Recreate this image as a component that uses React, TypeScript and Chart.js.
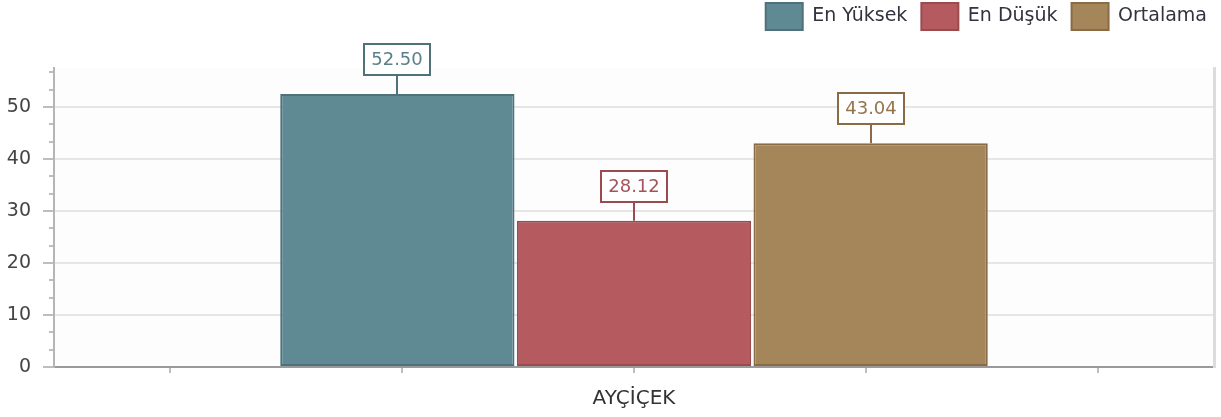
import React, { useEffect, useRef } from "react";
import { Chart, registerables } from "chart.js";

Chart.register(...registerables);

const categories = ["AYÇİÇEK"];
const seriesNames = ["En Yüksek", "En Düşük", "Ortalama"];
const enYuksek = [52.5];
const enDusuk = [28.12];
const ortalama = [43.04];
const yTickValues = [0, 10, 20, 30, 40, 50];
const yMax = 57.5;

const fillColors = ["#5f8a93", "#b55a5f", "#a5865b"];
const borderColors = ["#4f717a", "#9b4a50", "#8a6b45"];
const labelTextColors = ["#5a7f88", "#a5545a", "#94744d"];

const FONT = '"DejaVu Sans", Verdana, sans-serif';

const decorPlugin = {
  id: "decor",
  beforeLayout(chart: any) {
    const lg = chart.legend;
    if (lg && !lg._patched) {
      const orig = lg.fit.bind(lg);
      lg.fit = function () {
        orig();
        this.height = 79;
      };
      lg._patched = true;
    }
  },
  beforeDraw(chart: any) {
    const { ctx, chartArea } = chart;
    ctx.save();
    ctx.fillStyle = "#ffffff";
    ctx.fillRect(0, 0, chart.width, chart.height);
    ctx.fillStyle = "#fdfdfd";
    ctx.fillRect(chartArea.left, chartArea.top, chartArea.right - chartArea.left, chartArea.bottom - chartArea.top);
    ctx.restore();
  },
  afterDraw(chart: any) {
    const { ctx, chartArea } = chart;
    const y = chart.scales.y;
    ctx.save();
    ctx.strokeStyle = "#bdbdbd";
    ctx.lineWidth = 2;
    for (let k = 0; k * (10 / 3) <= yMax + 0.001; k++) {
      if (k % 3 === 0) continue;
      const py = Math.round(y.getPixelForValue(k * (10 / 3)));
      ctx.beginPath();
      ctx.moveTo(chartArea.left - 5, py);
      ctx.lineTo(chartArea.left - 1, py);
      ctx.stroke();
    }
    const w = chartArea.right - chartArea.left;
    for (let i = 0; i < 5; i++) {
      const px = Math.round(chartArea.left + (i + 0.5) * (w / 5));
      ctx.beginPath();
      ctx.moveTo(px, chartArea.bottom + 1);
      ctx.lineTo(px, chartArea.bottom + 6);
      ctx.stroke();
    }
    ctx.font = "18px " + FONT;
    chart.data.datasets.forEach((ds: any, di: number) => {
      const meta = chart.getDatasetMeta(di);
      meta.data.forEach((el: any, i: number) => {
        const v = ds.data[i];
        const text = Number(v).toFixed(2);
        const tw = ctx.measureText(text).width;
        const bw = Math.round(tw + 14);
        const bh = 31;
        const x = Math.round(el.x);
        const top = el.y;
        const boxBottom = Math.round(top - 19);
        ctx.strokeStyle = borderColors[di];
        ctx.lineWidth = 2;
        ctx.beginPath();
        ctx.moveTo(x, boxBottom);
        ctx.lineTo(x, top);
        ctx.stroke();
        ctx.fillStyle = "#ffffff";
        ctx.fillRect(x - bw / 2, boxBottom - bh, bw, bh);
        ctx.strokeRect(x - bw / 2, boxBottom - bh, bw, bh);
        ctx.fillStyle = labelTextColors[di];
        ctx.textAlign = "center";
        ctx.textBaseline = "middle";
        ctx.fillText(text, x, boxBottom - bh / 2 + 1);
      });
    });
    ctx.restore();
  },
};

export default function App() {
  const ref = useRef<HTMLCanvasElement | null>(null);

  useEffect(() => {
    document.body.style.margin = "0";
    const canvas = ref.current;
    if (!canvas) return;
    const seriesData = [enYuksek, enDusuk, ortalama];
    const chart = new Chart(canvas, {
      type: "bar",
      data: {
        labels: categories,
        datasets: seriesNames.map((name, i) => ({
          label: name,
          data: seriesData[i],
          backgroundColor: fillColors[i],
          borderColor: borderColors[i],
          borderWidth: 2,
          borderSkipped: false,
          categoryPercentage: 0.612,
          barPercentage: 0.99,
        })),
      },
      options: {
        animation: false,
        responsive: false,
        layout: { padding: { top: -11, right: 0, bottom: -14, left: 0 } },
        plugins: {
          tooltip: { enabled: false },
          legend: {
            display: true,
            position: "top",
            align: "end",
            labels: {
              boxWidth: 37,
              boxHeight: 27,
              padding: 14,
              color: "#333340",
              font: { family: FONT, size: 19 },
            },
          },
        },
        scales: {
          x: {
            type: "category",
            grid: { drawOnChartArea: false, drawTicks: false },
            border: { display: true, color: "#9a9a9a", width: 2 },
            ticks: { color: "#333333", font: { family: FONT, size: 20 }, padding: 20 },
          },
          y: {
            type: "linear",
            position: "left",
            min: 0,
            max: yMax,
            afterBuildTicks: (s: any) => {
              s.ticks = yTickValues.map((v) => ({ value: v }));
            },
            afterFit: (s: any) => {
              s.width = 54;
            },
            grid: {
              color: "#e6e6e6",
              lineWidth: 2,
              tickLength: 11,
              tickColor: "#bdbdbd",
              tickWidth: 2,
            },
            border: { display: true, color: "#b5b5b5", width: 2 },
            ticks: { color: "#444444", font: { family: FONT, size: 19 }, padding: 12 },
          },
          yR: {
            type: "linear",
            position: "right",
            display: true,
            grid: { display: false, drawTicks: false },
            ticks: { display: false },
            border: { display: true, color: "#dcdcdc", width: 3 },
            afterFit: (s: any) => {
              s.width = 7;
            },
          },
        },
      },
      plugins: [decorPlugin],
    } as any);
    return () => chart.destroy();
  }, []);

  return (
    <div style={{ width: 1221, height: 417 }}>
      <canvas ref={ref} width={1221} height={417} />
    </div>
  );
}
